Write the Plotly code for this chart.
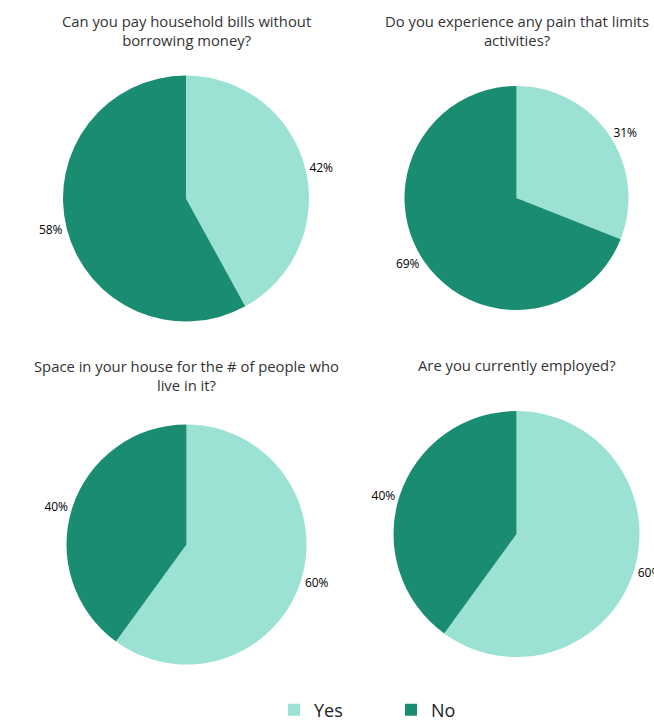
import plotly.graph_objects as go

W, H = 654, 722

labels = ["Yes", "No"]
titles = [
    "Can you pay household bills without<br>borrowing money?",
    "Do you experience any pain that limits<br>activities?",
    "Space in your house for the # of people who<br>live in it?",
    "Are you currently employed?",
]
yes_values = [42, 31, 60, 60]
no_values = [58, 69, 40, 40]

colors = ["#9be2d4", "#1a8c72"]
FONT = "Open Sans, sans-serif"

# pixel geometry (center x, center y, radius) for each pie
geom = [(186, 198.5, 123), (516.5, 198, 112), (186.5, 544.5, 120), (516.5, 534, 123)]
title_y = [30, 30, 375.5, 365]

fig = go.Figure()
for i in range(4):
    cx, cy, r = geom[i]
    fig.add_trace(go.Pie(
        labels=labels,
        values=[yes_values[i], no_values[i]],
        sort=False,
        direction="clockwise",
        rotation=0,
        marker=dict(colors=colors, line=dict(width=0)),
        textposition="outside",
        texttemplate="%{value}%",
        textfont=dict(size=12, color="#000000", family=FONT),
        hole=0,
        domain=dict(x=[(cx - r) / W, (cx + r) / W],
                    y=[(H - cy - r) / H, (H - cy + r) / H]),
        showlegend=(i == 0),
    ))
    fig.add_annotation(
        text=titles[i], x=cx / W, y=(H - title_y[i]) / H,
        xref="paper", yref="paper", xanchor="center", yanchor="middle",
        showarrow=False, align="center",
        font=dict(size=14.8, color="#333333", family=FONT),
    )

fig.update_layout(
    width=W, height=H,
    margin=dict(l=0, r=0, t=0, b=0, autoexpand=False),
    paper_bgcolor="white",
    plot_bgcolor="white",
    font=dict(family=FONT),
    legend=dict(
        orientation="h", x=274 / W, y=(H - 710) / H, xanchor="left", yanchor="middle",
        font=dict(size=18, color="#222222", family=FONT),
        entrywidth=72, entrywidthmode="pixels",
        traceorder="normal",
    ),
)

fig.write_html(
    "out.html",
    config={"displayModeBar": False},
    post_script="document.body.style.margin='0';document.body.style.overflow='hidden';",
)
